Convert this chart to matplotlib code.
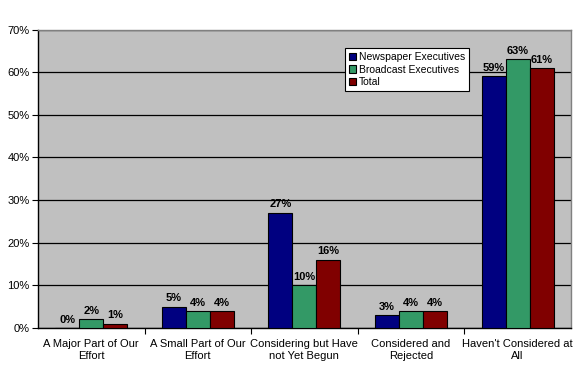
import matplotlib
matplotlib.use("Agg")
import matplotlib.pyplot as plt
import numpy as np

categories = ["A Major Part of Our\nEffort", "A Small Part of Our\nEffort",
              "Considering but Have\nnot Yet Begun", "Considered and\nRejected",
              "Haven't Considered at\nAll"]
newspaper = [0, 5, 27, 3, 59]
broadcast = [2, 4, 10, 4, 63]
total = [1, 4, 16, 4, 61]
series_names = ["Newspaper Executives", "Broadcast Executives", "Total"]
colors = ["#000080", "#339966", "#800000"]
yticks = [0, 10, 20, 30, 40, 50, 60, 70]

plt.rcParams['font.family'] = ['Liberation Sans', 'DejaVu Sans']

fig = plt.figure(figsize=(5.76, 3.74), dpi=100)
fig.patch.set_facecolor("white")
ax = fig.add_axes([0.066, 0.123, 0.925, 0.798])
ax.set_facecolor("#C0C0C0")

x = np.arange(len(categories))
w = 0.225
for i, (vals, name, col) in enumerate(zip([newspaper, broadcast, total], series_names, colors)):
    pos = x + (i - 1) * w
    ax.bar(pos, vals, width=w, color=col, edgecolor="black", linewidth=0.8,
           label=name, zorder=3)
    for px, v in zip(pos, vals):
        ax.text(px, v + 0.8, f"{v}%", ha="center", va="bottom", fontsize=8,
                fontweight="bold", zorder=4)

ax.set_xlim(-0.5, len(categories) - 0.5)
ax.set_ylim(0, 70)
ax.set_yticks(yticks)
ax.set_yticklabels([f"{t}%" for t in yticks], fontsize=8)
ax.yaxis.grid(True, color="black", linewidth=0.9, zorder=1)
ax.set_axisbelow(True)

ax.set_xticks(np.arange(len(categories) - 1) + 0.5)
ax.set_xticklabels([])
ax.set_xticks(x, minor=True)
ax.set_xticklabels(categories, minor=True, fontsize=8)
ax.tick_params(axis="x", which="minor", length=0, pad=8)
ax.tick_params(axis="x", which="major", direction="out", length=4, color="black")
ax.tick_params(axis="y", direction="out", length=4, pad=2)

for s in ["left", "bottom"]:
    ax.spines[s].set_color("black")
    ax.spines[s].set_linewidth(1)
for s in ["top", "right"]:
    ax.spines[s].set_color("#808080")
    ax.spines[s].set_linewidth(1)

leg = ax.legend(loc="upper left", bbox_to_anchor=(0.576, 0.937), fontsize=7.5,
                frameon=True, fancybox=False, framealpha=1, edgecolor="black",
                handlelength=0.7, handleheight=0.7, handletextpad=0.3,
                borderpad=0.35, labelspacing=0.25, borderaxespad=0)
leg.get_frame().set_linewidth(0.8)
leg.set_zorder(5)

fig.savefig("out.png", dpi=100, facecolor="white")
